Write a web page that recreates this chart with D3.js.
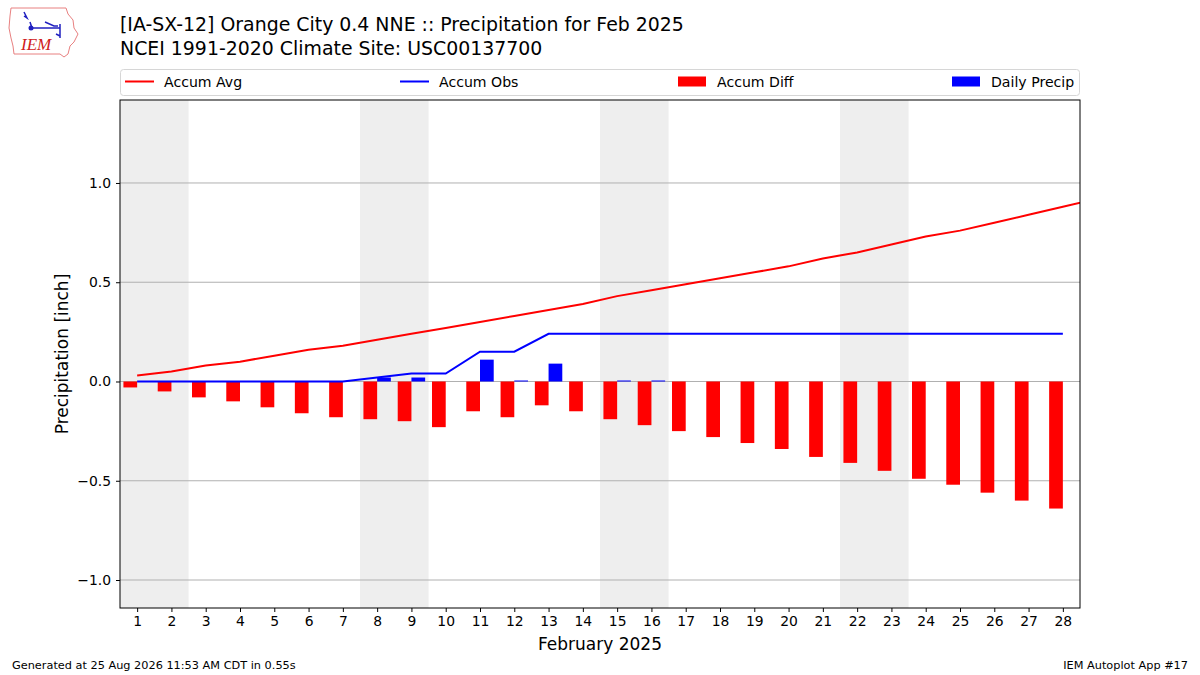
<!DOCTYPE html>
<html>
<head>
<meta charset="utf-8">
<script src="https://cdn.jsdelivr.net/npm/d3@7"></script>
<style>
  body { margin: 0; background: #fff; }
  text { font-family: "DejaVu Sans", sans-serif; fill: #000; }
</style>
</head>
<body>
<script>
// Chart data
var days       = d3.range(1, 29);
var avgDays    = d3.range(1, 30);
var accumAvg   = [0.03, 0.05, 0.08, 0.10, 0.13, 0.16, 0.18, 0.21, 0.24, 0.27, 0.30, 0.33, 0.36, 0.39,
                  0.43, 0.46, 0.49, 0.52, 0.55, 0.58, 0.62, 0.65, 0.69, 0.73, 0.76, 0.80, 0.84, 0.88, 0.92];
var accumObs   = [0, 0, 0, 0, 0, 0, 0, 0.02, 0.04, 0.04, 0.15, 0.15, 0.24, 0.24,
                  0.24, 0.24, 0.24, 0.24, 0.24, 0.24, 0.24, 0.24, 0.24, 0.24, 0.24, 0.24, 0.24, 0.24];
var accumDiff  = [-0.03, -0.05, -0.08, -0.10, -0.13, -0.16, -0.18, -0.19, -0.20, -0.23, -0.15, -0.18, -0.12, -0.15,
                  -0.19, -0.22, -0.25, -0.28, -0.31, -0.34, -0.38, -0.41, -0.45, -0.49, -0.52, -0.56, -0.60, -0.64];
var dailyPrecip = [0, 0, 0, 0, 0, 0, 0, 0.02, 0.02, 0, 0.11, 0.005, 0.09, 0,
                   0.005, 0.005, 0, 0, 0, 0, 0, 0, 0, 0, 0, 0, 0, 0];
var weekends   = [[0.5, 2.5], [7.5, 9.5], [14.5, 16.5], [21.5, 23.5]];
var yTicks     = [-1.0, -0.5, 0.0, 0.5, 1.0];

var W = 1200, H = 675;
var m = { left: 120, right: 1080, top: 100, bottom: 608 };

var svg = d3.select("body").append("svg").attr("width", W).attr("height", H);

var x = d3.scaleLinear().domain([0.5, 28.5]).range([m.left, m.right]);
var y = d3.scaleLinear().domain([-1.141, 1.418]).range([m.bottom, m.top]);

svg.append("clipPath").attr("id", "clip")
  .append("rect").attr("x", m.left).attr("y", m.top)
  .attr("width", m.right - m.left).attr("height", m.bottom - m.top);

var plot = svg.append("g").attr("clip-path", "url(#clip)");

// weekend shading
plot.selectAll("rect.wk").data(weekends).enter().append("rect")
  .attr("x", function(d){ return x(d[0]); })
  .attr("width", function(d){ return x(d[1]) - x(d[0]); })
  .attr("y", m.top).attr("height", m.bottom - m.top)
  .style("fill", "#eeeeee");

// grid
plot.selectAll("line.grid").data(yTicks).enter().append("line")
  .attr("x1", m.left).attr("x2", m.right)
  .attr("y1", function(d){ return y(d); }).attr("y2", function(d){ return y(d); })
  .style("stroke", "#b0b0b0").style("stroke-width", 1);

var bw = 0.4;
// accum diff bars (left of day)
plot.selectAll("rect.diff").data(days).enter().append("rect")
  .attr("x", function(d){ return x(d - bw); })
  .attr("width", function(d){ return x(d) - x(d - bw); })
  .attr("y", function(d, i){ return y(Math.max(0, accumDiff[i])); })
  .attr("height", function(d, i){ return Math.abs(y(accumDiff[i]) - y(0)); })
  .style("fill", "#ff0000");

// daily precip bars (right of day)
plot.selectAll("rect.daily").data(days).enter().append("rect")
  .attr("x", function(d){ return x(d); })
  .attr("width", function(d){ return x(d + bw) - x(d); })
  .attr("y", function(d, i){ return y(dailyPrecip[i]); })
  .attr("height", function(d, i){ return y(0) - y(dailyPrecip[i]); })
  .style("fill", "#0000ff");

var line = d3.line().x(function(d){ return x(d[0]); }).y(function(d){ return y(d[1]); });

plot.append("path")
  .datum(avgDays.map(function(d, i){ return [d, accumAvg[i]]; }))
  .attr("d", line).style("fill", "none").style("stroke", "#ff0000").style("stroke-width", 2);

plot.append("path")
  .datum(days.map(function(d, i){ return [d, accumObs[i]]; }))
  .attr("d", line).style("fill", "none").style("stroke", "#0000ff").style("stroke-width", 2);

// frame
svg.append("rect").attr("x", m.left).attr("y", m.top)
  .attr("width", m.right - m.left).attr("height", m.bottom - m.top)
  .style("fill", "none").style("stroke", "#000").style("stroke-width", 1);

// axes
var xAxis = svg.append("g").attr("transform", "translate(0," + m.bottom + ")")
  .call(d3.axisBottom(x).tickValues(days).tickSize(4).tickPadding(4).tickFormat(d3.format("d")));
var yAxis = svg.append("g").attr("transform", "translate(" + m.left + ",0)")
  .call(d3.axisLeft(y).tickValues(yTicks).tickSize(4).tickPadding(5).tickFormat(function(d){ return d < 0 ? "\u2212" + Math.abs(d).toFixed(1) : d.toFixed(1); }));
[xAxis, yAxis].forEach(function(a){
  a.select(".domain").remove();
  a.selectAll("text").style("font-family", "DejaVu Sans, sans-serif").style("font-size", "13.9px").style("fill", "#000");
  a.selectAll("line").style("stroke", "#000");
});

svg.append("text").attr("x", (m.left + m.right) / 2).attr("y", 650)
  .attr("text-anchor", "middle").style("font-size", "17px").text("February 2025");
svg.append("text").attr("transform", "translate(68," + ((m.top + m.bottom) / 2) + ") rotate(-90)")
  .attr("text-anchor", "middle").style("font-size", "17px").text("Precipitation [inch]");

// titles
svg.append("text").attr("x", 120).attr("y", 31).style("font-size", "18.9px")
  .text("[IA-SX-12] Orange City 0.4 NNE :: Precipitation for Feb 2025");
svg.append("text").attr("x", 120).attr("y", 55).style("font-size", "18.9px")
  .text("NCEI 1991-2020 Climate Site: USC00137700");

// legend
var lg = svg.append("g");
lg.append("rect").attr("x", 120.5).attr("y", 69.5).attr("width", 959).attr("height", 26).attr("rx", 3)
  .style("fill", "#fff").style("stroke", "#d6d6d6");
var legendItems = [
  { label: "Accum Avg",    kind: "line", color: "#ff0000", x: 125 },
  { label: "Accum Obs",    kind: "line", color: "#0000ff", x: 400 },
  { label: "Accum Diff",   kind: "rect", color: "#ff0000", x: 678 },
  { label: "Daily Precip", kind: "rect", color: "#0000ff", x: 952 }
];
legendItems.forEach(function(it){
  if(it.kind === "line"){
    lg.append("line").attr("x1", it.x).attr("x2", it.x + 29).attr("y1", 81.5).attr("y2", 81.5)
      .style("stroke", it.color).style("stroke-width", 2);
  } else {
    lg.append("rect").attr("x", it.x).attr("y", 76.5).attr("width", 28).attr("height", 10).style("fill", it.color);
  }
  lg.append("text").attr("x", it.x + 39).attr("y", 86.5).style("font-size", "14.1px").text(it.label);
});

// footer
svg.append("text").attr("x", 12).attr("y", 669).style("font-size", "11.3px")
  .text("Generated at 25 Aug 2026 11:53 AM CDT in 0.55s");
svg.append("text").attr("x", 1188).attr("y", 669).attr("text-anchor", "end").style("font-size", "11.3px")
  .text("IEM Autoplot App #17");

// logo (rough Iowa outline)
var logo = svg.append("g");
logo.append("path")
  .attr("d", "M11,8 L66,8 L68,14 L73,20 L74,28 L78,34 L74,42 L70,46 L68,54 L64,57 L60,54 L14,54 L13,46 L11,38 L9,28 L10,16 Z")
  .style("fill", "#fff").style("stroke", "#e88080").style("stroke-width", 1);
logo.append("path").attr("d", "M24,12 L27,18 L24,16 M30,22 L32,28 L60,28 M45,22 L54,26 L58,26 M60,24 L60,38 M56,34 L60,36")
  .style("fill", "none").style("stroke", "#2020c0").style("stroke-width", 1.5);
logo.append("circle").attr("cx", 31).attr("cy", 28).attr("r", 2.5).style("fill", "#2020c0");
logo.append("text").attr("x", 21).attr("y", 50).style("font-family", "Liberation Serif, serif")
  .style("font-style", "italic").style("font-size", "17px").style("fill", "#d02020").text("IEM");
</script>
</body>
</html>
